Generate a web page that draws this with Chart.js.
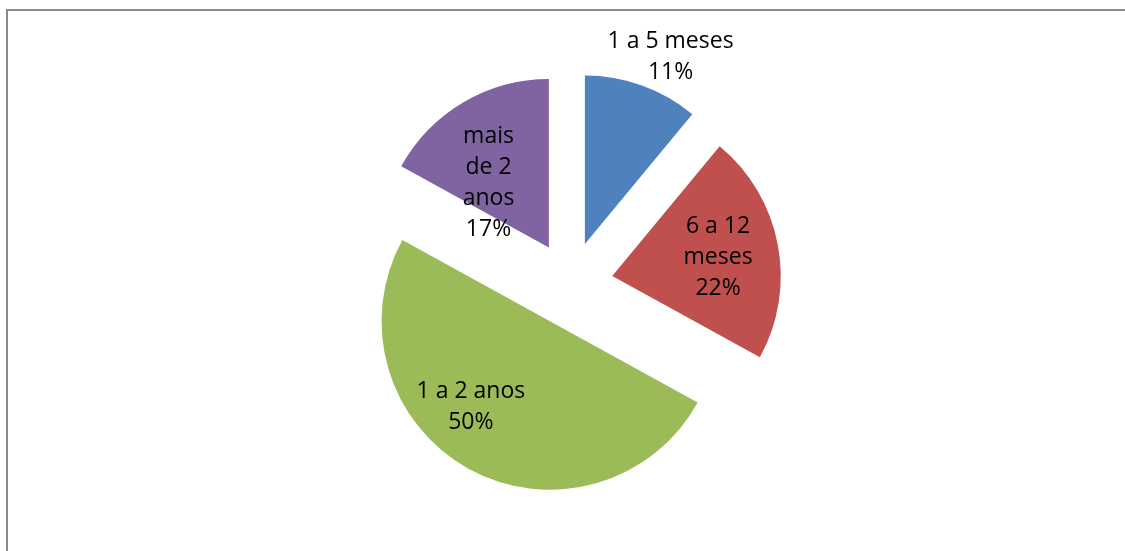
<!DOCTYPE html>
<html>
<head>
<meta charset="utf-8">
<script src="https://cdn.jsdelivr.net/npm/chart.js@4/dist/chart.umd.min.js"></script>
<style>
  html, body { margin: 0; padding: 0; background: #fff; overflow: hidden; }
  canvas { display: block; }
</style>
</head>
<body>
<canvas id="c" width="1125" height="551"></canvas>
<script>
// ---- data ----
const categories = ['1 a 5 meses', '6 a 12 meses', '1 a 2 anos', 'mais de 2 anos'];
const values = [11, 22, 50, 17];
const labelLines = [
  ['1 a 5 meses', '11%'],
  ['6 a 12', 'meses', '22%'],
  ['1 a 2 anos', '50%'],
  ['mais', 'de 2', 'anos', '17%']
];
const colors = ['#4F81BD', '#C0504D', '#9BBB59', '#8064A2'];

// ---- styling / placement ----
const EXPLODE = 42.5;
const labelPlacement = [
  { dist: 248, dAngle: 4.0 },
  { dist: 150, dAngle: 0.5 },
  { dist: 158, dAngle: 10.3 },
  { dist: 130, dAngle: -8.5 }
];
const FONT = '23px "Open Sans", sans-serif';
const LINE_H = 31;

const framePlugin = {
  id: 'frame',
  beforeDraw(chart) {
    const ctx = chart.ctx;
    ctx.save();
    ctx.fillStyle = '#fff';
    ctx.fillRect(0, 0, chart.width, chart.height);
    ctx.fillStyle = '#8a8a8a';
    ctx.fillRect(6, 9, 2, chart.height - 9);
    ctx.fillRect(6, 9, chart.width - 6, 2);
    ctx.restore();
  }
};

const explodePlugin = {
  id: 'explode',
  beforeDatasetDraw(chart, args) {
    const ctx = chart.ctx;
    args.meta.data.forEach(arc => {
      const mid = (arc.startAngle + arc.endAngle) / 2;
      ctx.save();
      ctx.translate(Math.cos(mid) * EXPLODE, Math.sin(mid) * EXPLODE);
      arc.draw(ctx);
      ctx.restore();
    });
    return false;
  }
};

const labelPlugin = {
  id: 'sliceLabels',
  afterDatasetsDraw(chart) {
    const ctx = chart.ctx;
    const meta = chart.getDatasetMeta(0);
    ctx.save();
    ctx.font = FONT;
    ctx.fillStyle = '#000';
    ctx.textAlign = 'center';
    ctx.textBaseline = 'middle';
    meta.data.forEach((arc, i) => {
      const mid = (arc.startAngle + arc.endAngle) / 2;
      const p = labelPlacement[i];
      const a = mid + p.dAngle * Math.PI / 180;
      const cx = arc.x + Math.cos(a) * p.dist;
      const cy = arc.y + Math.sin(a) * p.dist;
      const lines = labelLines[i];
      const top = cy - (lines.length - 1) * LINE_H / 2;
      lines.forEach((t, k) => ctx.fillText(t, cx, top + k * LINE_H));
    });
    ctx.restore();
  }
};

new Chart(document.getElementById('c'), {
  type: 'pie',
  data: {
    labels: categories,
    datasets: [{
      data: values,
      backgroundColor: colors,
      borderWidth: 0
    }]
  },
  options: {
    responsive: false,
    animation: false,
    devicePixelRatio: 1,
    radius: 168.5,
    layout: { padding: { left: 16, right: 0, top: 17, bottom: 0 } },
    plugins: { legend: { display: false }, tooltip: { enabled: false } }
  },
  plugins: [framePlugin, explodePlugin, labelPlugin]
});
</script>
</body>
</html>
